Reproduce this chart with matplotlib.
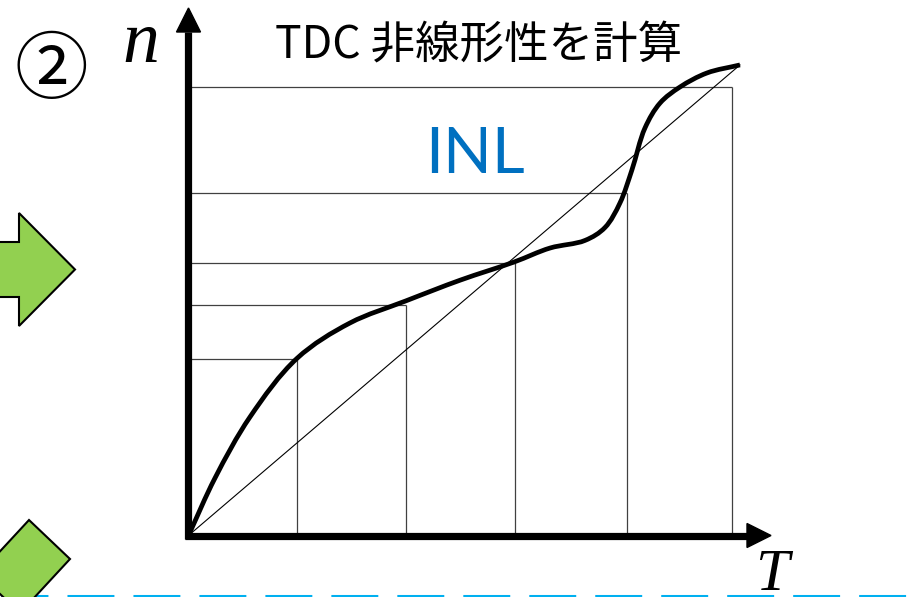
import numpy as np
import matplotlib
matplotlib.use("Agg")
import matplotlib.pyplot as plt
from matplotlib.path import Path
from matplotlib.patches import PathPatch, Polygon

# --- data: TDC code n versus time T (arbitrary units) ---------------------
T_curve = [0.0, 0.244, 0.566, 0.999, 1.487, 1.998, 2.504, 2.997, 3.329,
           3.651, 3.835, 3.973, 4.083, 4.203, 4.342, 4.526, 4.774, 5.078]
n_curve = [0.0, 0.529, 1.091, 1.631, 1.957, 2.159, 2.352, 2.518, 2.647,
           2.717, 2.836, 3.062, 3.366, 3.752, 3.982, 4.130, 4.259, 4.333]

# sampled code transitions (T_k, n_k)
T_marks = [0.995, 2.0, 3.006, 4.035, 5.002]
n_marks = [1.622, 2.122, 2.506, 3.157, 4.127]

title_text = "TDC 非線形性を計算"
inl_text = "INL"

plt.rcParams["lines.scale_dashes"] = False


def centripetal_path(xs, ys, alpha=0.5):
    """Smooth path through the points (centripetal Catmull-Rom as Beziers)."""
    p = np.column_stack([xs, ys]).astype(float)
    p = np.vstack([2 * p[0] - p[1], p, 2 * p[-1] - p[-2]])
    verts = [p[1]]
    codes = [Path.MOVETO]
    for i in range(1, len(p) - 2):
        p0, p1, p2, p3 = p[i - 1], p[i], p[i + 1], p[i + 2]
        d1 = np.linalg.norm(p1 - p0)
        d2 = np.linalg.norm(p2 - p1)
        d3 = np.linalg.norm(p3 - p2)
        a1, a2, a3 = d1 ** alpha, d2 ** alpha, d3 ** alpha
        b1 = (d1 ** (2 * alpha) * p2 - d2 ** (2 * alpha) * p0
              + (2 * d1 ** (2 * alpha) + 3 * a1 * a2 + d2 ** (2 * alpha)) * p1) / (3 * a1 * (a1 + a2))
        b2 = (d3 ** (2 * alpha) * p1 - d2 ** (2 * alpha) * p3
              + (2 * d3 ** (2 * alpha) + 3 * a3 * a2 + d2 ** (2 * alpha)) * p2) / (3 * a3 * (a3 + a2))
        verts += [b1, b2, p2]
        codes += [Path.CURVE4] * 3
    return Path(verts, codes)


# --- figure ---------------------------------------------------------------
W, H, DPI = 912, 597, 100
fig = plt.figure(figsize=(W / DPI, H / DPI), dpi=DPI)

# pixel-space overlay for slide decorations and labels
deco = fig.add_axes([0, 0, 1, 1], zorder=2)
deco.set_xlim(0, W)
deco.set_ylim(H, 0)
deco.axis("off")
deco.patch.set_alpha(0)

# data axes: 1 unit = 108.6 px, origin at (188.5, 535.5) px
PX = 108.6
ox, oy = 188.5, 535.5
ax = fig.add_axes([0, 0, 1, 1], zorder=1)
ax.set_xlim(-ox / PX, (W - ox) / PX)
ax.set_ylim((oy - H) / PX, oy / PX)
ax.axis("off")

gray = "#404040"
# grid lines from each sampled point to the axes
for t, n in zip(T_marks, n_marks):
    ax.plot([t, t], [0, n], color=gray, lw=0.9, solid_capstyle="butt")
    ax.plot([0, t], [n, n], color=gray, lw=0.9, solid_capstyle="butt")

# ideal (linear) transfer line
ax.plot([T_curve[0], T_curve[-1]], [n_curve[0], n_curve[-1]],
        color="black", lw=0.8)

# measured transfer curve
ax.add_patch(PathPatch(centripetal_path(T_curve, n_curve), fill=False, lw=3.4,
                       edgecolor="black", capstyle="butt", joinstyle="round",
                       zorder=3))

# thick axes with arrowheads
ax_lw = 5.2
y_top_base, y_tip = (oy - 32) / PX, (oy - 8) / PX
x_end_base, x_tip = (747 - ox) / PX, (771 - ox) / PX
half = 12 / PX
ax.plot([0, 0], [-0.03, y_top_base], color="black", lw=ax_lw,
        solid_capstyle="butt", zorder=4)
ax.plot([-0.03, x_end_base], [0, 0], color="black", lw=ax_lw,
        solid_capstyle="butt", zorder=4)
ax.add_patch(Polygon([[-half, y_top_base], [half, y_top_base], [0, y_tip]],
                     closed=True, color="black", zorder=4))
ax.add_patch(Polygon([[x_end_base, -half], [x_end_base, half], [x_tip, 0]],
                     closed=True, color="black", zorder=4))

# axis letters
deco.text(141, 62, "n", fontsize=53, family="Liberation Serif",
          style="italic", ha="center", va="baseline")
deco.text(772, 590, "T", fontsize=43.5, family="Liberation Serif",
          style="italic", ha="center", va="baseline")

# title and INL label
deco.text(479, 46, title_text, fontsize=32,
          family=["Noto Sans CJK JP", "DejaVu Sans"],
          ha="center", va="center")
deco.text(474.5, 173, inl_text, fontsize=46, family="Lato", color="#0070C0",
          ha="center", va="baseline")

# step number
deco.text(51.5, 72, "②", fontsize=53,
          family=["Noto Sans CJK JP", "DejaVu Sans"],
          ha="center", va="center")

# blue dashed separator
sep, = deco.plot([1, W], [596, 596], color="#00B0F0", lw=2.2,
                 solid_capstyle="butt")
sep.set_dashes((33.8, 13.7))
sep.set_dash_capstyle("butt")

# green block arrows at the left edge
green = "#92D050"
deco.add_patch(Polygon([[-10, 242], [19, 242], [19, 213], [75, 269.5],
                        [19, 326], [19, 297], [-10, 297]],
                       closed=True, facecolor=green, edgecolor="black", lw=1.5,
                       zorder=5))
deco.add_patch(Polygon([[29, 520], [70, 559], [20, 613], [-21, 574]],
                       closed=True, facecolor=green, edgecolor="black", lw=1.5,
                       zorder=5))

fig.savefig("out.png", dpi=DPI)
